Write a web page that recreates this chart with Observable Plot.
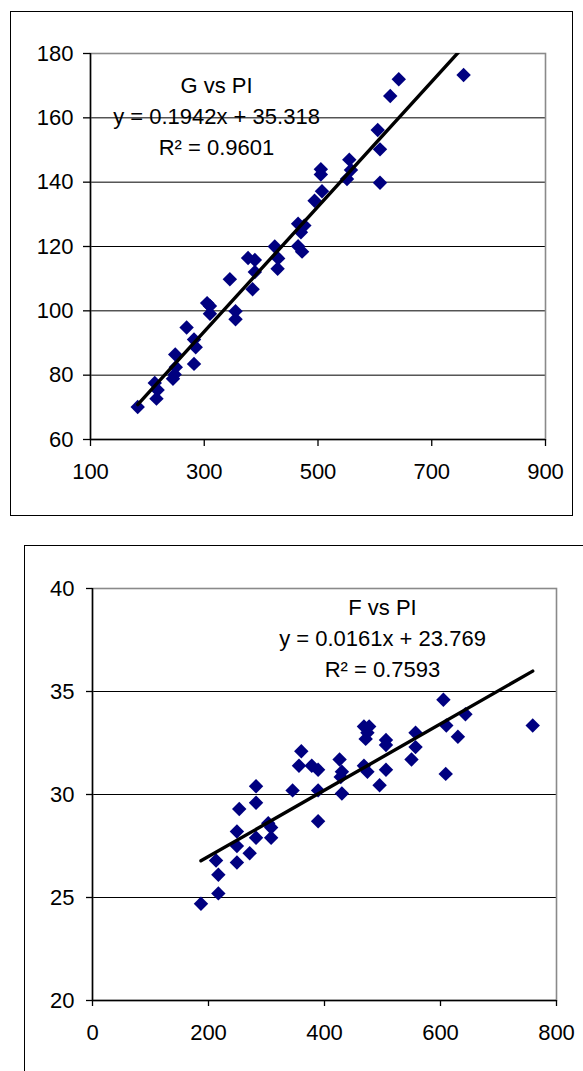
<!DOCTYPE html>
<html><head><meta charset="utf-8">
<script src="https://cdn.jsdelivr.net/npm/d3@7"></script>
<script src="https://cdn.jsdelivr.net/npm/@observablehq/plot@0.6"></script>
<style>
html,body{margin:0;padding:0;background:#fff;width:583px;height:1071px;overflow:hidden;position:relative;font-family:"Liberation Sans",Arial,sans-serif;}
.box{position:absolute;border:1.5px solid #000;box-sizing:border-box;pointer-events:none;}
.chart{position:absolute;left:0;}
</style></head><body>
<div id="c1" class="chart" style="top:0"></div>
<div id="c2" class="chart" style="top:530px"></div>
<div class="box" style="left:10px;top:11px;width:563px;height:505px"></div>
<div class="box" style="left:24px;top:545px;width:600px;height:600px"></div>
<script>
// ---- Chart 1: G vs PI ----
const piG = [183, 213, 218, 216, 245, 248, 250, 249, 269, 282, 285, 282, 305, 310, 310, 345, 355, 355, 377, 389, 389, 385, 424, 430, 429, 465, 470, 476, 465, 472, 494, 505, 505, 507, 551, 555, 558, 605, 609, 609, 627, 642, 756];
const gVals = [70.1, 77.6, 75.4, 72.7, 78.9, 80.2, 82.5, 86.4, 94.8, 91.1, 88.7, 83.5, 102.4, 101.5, 99.1, 109.8, 99.9, 97.4, 116.4, 115.8, 112.1, 106.7, 120.0, 116.3, 113.1, 127.1, 124.4, 126.5, 120.1, 118.4, 134.2, 144.0, 142.4, 137.2, 141.0, 147.0, 143.8, 156.2, 150.2, 139.8, 166.8, 172.0, 173.3];
const xTicksG = [100, 300, 500, 700, 900];
const yTicksG = [60, 80, 100, 120, 140, 160, 180];
const fitG = [0.1942, 35.318];
const annotG = ["G vs PI", "y = 0.1942x + 35.318", "R\u00B2 = 0.9601"];

// ---- Chart 2: F vs PI ----
const piF = [187, 213, 217, 217, 249, 249, 249, 253, 271, 282, 282, 282, 303, 308, 308, 345, 356, 360, 378, 389, 389, 389, 426, 430, 428, 430, 468, 474, 468, 477, 471, 474, 495, 506, 506, 506, 550, 557, 557, 605, 610, 609, 630, 643, 759];
const fVals = [24.7, 26.8, 26.1, 25.2, 26.7, 27.5, 28.2, 29.3, 27.15, 27.9, 29.6, 30.4, 28.6, 28.4, 27.9, 30.2, 31.4, 32.1, 31.4, 31.2, 30.2, 28.7, 31.7, 31.1, 30.85, 30.05, 31.4, 31.1, 33.3, 33.3, 32.7, 33.0, 30.45, 32.65, 32.4, 31.2, 31.7, 33.0, 32.3, 34.6, 33.35, 31.0, 32.8, 33.9, 33.35];
const xTicksF = [0, 200, 400, 600, 800];
const yTicksF = [20, 25, 30, 35, 40];
const fitF = [0.0161, 23.769];
const annotF = ["F vs PI", "y = 0.0161x + 23.769", "R\u00B2 = 0.7593"];

function scatter(o) {
  const data = o.xs.map((x, i) => ({x, y: o.ys[i]}));
  const [x0, x1] = d3.extent(o.xs);
  const fitLine = [x0, x1].map(x => ({x, y: o.fit[0] * x + o.fit[1]}));
  const xd = [o.xTicks[0], o.xTicks[o.xTicks.length - 1]];
  const yd = [o.yTicks[0], o.yTicks[o.yTicks.length - 1]];
  return Plot.plot({
    width: 583, height: o.height,
    marginLeft: o.ml, marginRight: o.mr, marginTop: o.mt, marginBottom: o.mb,
    style: {background: "transparent", color: "#000", fontFamily: "'Liberation Sans', Arial, sans-serif"},
    x: {domain: xd},
    y: {domain: yd},
    marks: [
      Plot.ruleY(o.yTicks.slice(1, -1), {stroke: "#000", strokeWidth: 1}),
      Plot.frame({stroke: "#8a8a8a", strokeWidth: 1.6}),
      Plot.ruleX([xd[0]], {stroke: "#000", strokeWidth: 1.5}),
      Plot.ruleY([yd[0]], {stroke: "#000", strokeWidth: 1.5}),
      Plot.axisY(o.yTicks, {tickSize: o.tsy, tickPadding: o.tpy, fontSize: 22, label: null, stroke: "#000", strokeWidth: 1.3}),
      Plot.axisX(o.xTicks, {tickSize: o.tsx, tickPadding: o.tpx, fontSize: 22, label: null, stroke: "#000", strokeWidth: 1.3}),
      Plot.dot(data, {x: "x", y: "y", symbol: "diamond2", r: 6.5, fill: "#000080", stroke: "none"}),
      Plot.line(fitLine, {x: "x", y: "y", stroke: "#000", strokeWidth: 3.4, clip: true}),
      Plot.text([o.annot.join("\n")], {text: d => d, frameAnchor: "top-left", dx: o.tdx, dy: o.tdy,
        lineAnchor: "top", lineHeight: 1.42, fontSize: 22, fill: "#000", textAnchor: "middle"})
    ]
  });
}

document.getElementById("c1").appendChild(scatter({
  xs: piG, ys: gVals, xTicks: xTicksG, yTicks: yTicksG, fit: fitG, annot: annotG,
  height: 530, ml: 90, mr: 38, mt: 53, mb: 91, tsx: 7, tpx: 17, tsy: 7, tpy: 10, tdx: 126, tdy: 17
}));
document.getElementById("c2").appendChild(scatter({
  xs: piF, ys: fVals, xTicks: xTicksF, yTicks: yTicksF, fit: fitF, annot: annotF,
  height: 541, ml: 92, mr: 27, mt: 58, mb: 71, tsx: 6, tpx: 18, tsy: 6, tpy: 12, tdx: 290, tdy: 4
}));
</script>
</body></html>
